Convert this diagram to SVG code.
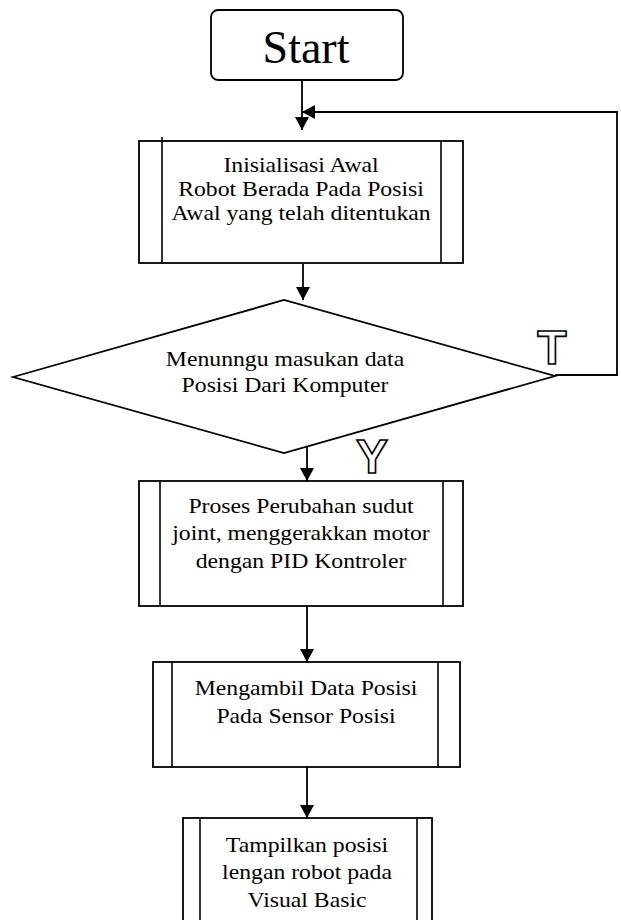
<svg xmlns="http://www.w3.org/2000/svg" width="621" height="920" viewBox="0 0 621 920">
<defs>
<style>
.box{fill:#fff;stroke:#000;stroke-width:1.8}
.in{fill:none;stroke:#000;stroke-width:1.6}
.ln{fill:none;stroke:#000;stroke-width:1.8}
.t{font-family:'Liberation Serif','Times New Roman',serif;font-size:21px;text-anchor:middle;fill:#000}
.lbl{font-family:'Liberation Sans',Arial,sans-serif;font-weight:bold;font-size:48px;text-anchor:middle;fill:#fff;stroke:#000;stroke-width:1.6}
</style>
<marker id="ah" markerWidth="14" markerHeight="14" refX="13" refY="7" orient="auto" markerUnits="userSpaceOnUse">
<path d="M0,0 L13,7 L0,14 Z" fill="#000"/>
</marker>
</defs>
<rect width="621" height="920" fill="#fff"/>
<g id="connectors">
<line class="ln" x1="302" y1="80" x2="302" y2="130" marker-end="url(#ah)"/>
<polyline class="ln" points="555,375 617,375 617,112 302,112" marker-end="url(#ah)"/>
<line class="ln" x1="303" y1="264" x2="303" y2="300" marker-end="url(#ah)"/>
<line class="ln" x1="307" y1="446" x2="307" y2="481" marker-end="url(#ah)"/>
<line class="ln" x1="307" y1="606" x2="307" y2="662" marker-end="url(#ah)"/>
<line class="ln" x1="307" y1="767" x2="307" y2="818" marker-end="url(#ah)"/>
<text class="lbl" x="552" y="364">T</text>
<text class="lbl" x="372" y="473">Y</text>
</g>
<g id="start">
<rect class="box" x="211" y="10" width="192" height="70" rx="7"/>
<text x="306" y="63" font-family="Liberation Serif, Times New Roman, serif" font-size="46" text-anchor="middle">Start</text>
</g>
<g id="init" font-family="Liberation Serif, Times New Roman, serif">
<rect class="box" x="139" y="141" width="324" height="122"/>
<line class="in" x1="162" y1="137" x2="162" y2="263"/>
<line class="in" x1="441" y1="141" x2="441" y2="263"/>
<g transform="translate(301 0) scale(1.13 1)">
<text class="t" x="0" y="172">Inisialisasi Awal</text>
<text class="t" x="0" y="196">Robot Berada Pada Posisi</text>
<text class="t" x="0" y="220">Awal yang telah ditentukan</text>
</g>
</g>
<g id="decision" font-family="Liberation Serif, Times New Roman, serif">
<polygon class="box" points="13,377 284,300 555,376 284,453"/>
<g transform="translate(285 0) scale(1.13 1)">
<text class="t" x="0" y="366">Menunngu masukan data</text>
<text class="t" x="0" y="392">Posisi Dari Komputer</text>
</g>
</g>
<g id="proses" font-family="Liberation Serif, Times New Roman, serif">
<rect class="box" x="139" y="481" width="324" height="125"/>
<line class="in" x1="160" y1="481" x2="160" y2="606"/>
<line class="in" x1="443" y1="481" x2="443" y2="606"/>
<g transform="translate(301 0) scale(1.13 1)">
<text class="t" x="0" y="513">Proses Perubahan sudut</text>
<text class="t" x="0" y="540">joint, menggerakkan motor</text>
<text class="t" x="0" y="568">dengan PID Kontroler</text>
</g>
</g>
<g id="ambil" font-family="Liberation Serif, Times New Roman, serif">
<rect class="box" x="153" y="662" width="307" height="105"/>
<line class="in" x1="172" y1="662" x2="172" y2="767"/>
<line class="in" x1="438" y1="662" x2="438" y2="767"/>
<g transform="translate(306 0) scale(1.13 1)">
<text class="t" x="0" y="695">Mengambil Data Posisi</text>
<text class="t" x="0" y="723">Pada Sensor Posisi</text>
</g>
</g>
<g id="tampil" font-family="Liberation Serif, Times New Roman, serif">
<rect class="box" x="183" y="818" width="249" height="110"/>
<line class="in" x1="200" y1="818" x2="200" y2="928"/>
<line class="in" x1="417" y1="818" x2="417" y2="928"/>
<g transform="translate(307 0) scale(1.13 1)">
<text class="t" x="0" y="852">Tampilkan posisi</text>
<text class="t" x="0" y="879">lengan robot pada</text>
<text class="t" x="0" y="907">Visual Basic</text>
</g>
</g>
</svg>
